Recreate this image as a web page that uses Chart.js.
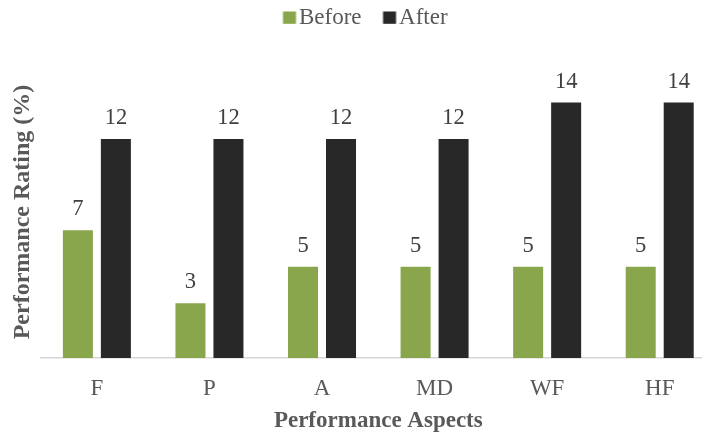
<!DOCTYPE html>
<html><head><meta charset="utf-8">
<script src="https://cdn.jsdelivr.net/npm/chart.js@4/dist/chart.umd.min.js"></script>
<style>html,body{margin:0;padding:0;overflow:hidden;background:#fff;width:702px;height:436px}
#c{display:block}</style></head>
<body><canvas id="c" width="718" height="436"></canvas>
<script>
const categories = ['F', 'P', 'A', 'MD', 'WF', 'HF'];
const beforeValues = [7, 3, 5, 5, 5, 5];
const afterValues = [12, 12, 12, 12, 14, 14];
const seriesNames = ['Before', 'After'];
const seriesColors = ['#8aa64c', '#282828'];
const yAxisTitle = 'Performance Rating (%)';
const xAxisTitle = 'Performance Aspects';
const yMin = 0;
const yMax = 16;

const FONT = "'Liberation Serif', 'Times New Roman', serif";
Chart.defaults.font.family = FONT;
const LEG_CX = 366.5;
const LEG_PAD = 24;

// legend swatch images: square drawn right of the item anchor so the text gap is small
function swatch(color) {
  const c = document.createElement('canvas');
  c.width = 26; c.height = 13;
  const g = c.getContext('2d');
  g.fillStyle = color;
  g.fillRect(9.5, 0.5, 13, 12.3);
  return c;
}
const swatches = seriesColors.map(swatch);

const valueLabels = {
  id: 'valueLabels',
  afterDatasetsDraw(chart) {
    const ctx = chart.ctx;
    ctx.save();
    ctx.font = '22.5px ' + FONT;
    ctx.fillStyle = '#404040';
    ctx.textAlign = 'center';
    ctx.textBaseline = 'alphabetic';
    chart.data.datasets.forEach((ds, i) => {
      const meta = chart.getDatasetMeta(i);
      meta.data.forEach((bar, j) => {
        ctx.fillText(String(ds.data[j]), bar.x, bar.y - 15);
      });
    });
    ctx.restore();
  }
};

const legendPlace = {
  id: 'legendPlace',
  beforeDraw(chart) {
    const lg = chart.legend;
    if (!lg) return;
    const w = lg.right - lg.left, h = lg.bottom - lg.top;
    lg.left = LEG_CX - w / 2; lg.right = lg.left + w;
    lg.top = 6 - LEG_PAD; lg.bottom = lg.top + h;
  }
};

new Chart(document.getElementById('c'), {
  type: 'bar',
  data: {
    labels: categories,
    datasets: [
      { label: seriesNames[0], data: beforeValues, backgroundColor: seriesColors[0],
        categoryPercentage: 0.675, barPercentage: 0.79 },
      { label: seriesNames[1], data: afterValues, backgroundColor: seriesColors[1],
        categoryPercentage: 0.675, barPercentage: 0.79 }
    ]
  },
  options: {
    responsive: false,
    animation: false,
    devicePixelRatio: 1,
    layout: { padding: { left: 0, right: 2, top: 9, bottom: 0 } },
    plugins: {
      tooltip: { enabled: false },
      legend: {
        position: 'top',
        labels: {
          usePointStyle: true,
          boxWidth: 2, boxHeight: 12, padding: LEG_PAD,
          color: '#595959',
          font: { family: FONT, size: 23 },
          generateLabels(chart) {
            const items = Chart.defaults.plugins.legend.labels.generateLabels(chart);
            items.forEach((it, i) => { it.pointStyle = swatches[i]; });
            return items;
          }
        }
      }
    },
    scales: {
      x: {
        grid: { display: false, drawTicks: false },
        border: { display: true, color: '#d6d6d6', width: 1.5 },
        ticks: { color: '#595959', padding: 17.5, font: { family: FONT, size: 23 } },
        title: { display: true, text: xAxisTitle, color: '#595959',
          font: { family: FONT, size: 23, weight: 'bold' }, padding: { top: 0, bottom: 1 } },
        afterFit(scale) { scale.height = 78; }
      },
      y: {
        min: yMin, max: yMax,
        grid: { display: false, drawTicks: false },
        border: { display: false },
        ticks: { display: false },
        title: { display: true, text: yAxisTitle, color: '#595959',
          font: { family: FONT, size: 24, weight: 'bold' }, padding: { top: 8.6, bottom: 0 } },
        afterFit(scale) { scale.width = 40.6; }
      }
    }
  },
  plugins: [valueLabels, legendPlace]
});
</script>
</body></html>
